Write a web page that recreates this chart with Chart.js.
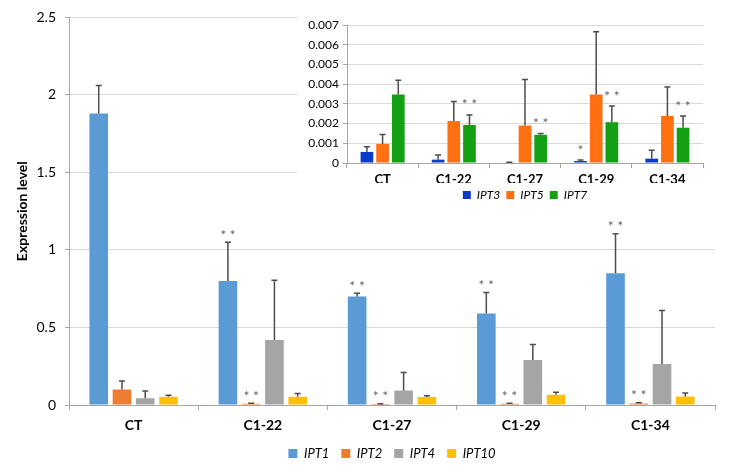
<!DOCTYPE html>
<html>
<head>
    <title>IPT expression</title>
    <script src="https://cdn.jsdelivr.net/npm/chart.js"></script>
    <style>
        body { margin: 0; background: #fff; }
        .wrap { position: relative; width: 729px; height: 472px; }
        #mainChart { position: absolute; left: 0; top: 0; }
        #insetChart { position: absolute; left: 297px; top: 0; background: #fff; }
    </style>
</head>
<body>
<div class="wrap">
    <canvas id="mainChart" width="729" height="472"></canvas>
    <canvas id="insetChart" width="432" height="211"></canvas>
</div>
<script>
    const categories = ['CT', 'C1-22', 'C1-27', 'C1-29', 'C1-34'];

    // main chart
    const ipt1 = [1.88, 0.80, 0.70, 0.59, 0.85];
    const ipt1Err = [0.18, 0.25, 0.02, 0.135, 0.255];
    const ipt2 = [0.10, 0.008, 0.006, 0.008, 0.01];
    const ipt2Err = [0.055, 0.003, 0.002, 0.003, 0.004];
    const ipt4 = [0.043, 0.42, 0.093, 0.29, 0.265];
    const ipt4Err = [0.047, 0.385, 0.117, 0.10, 0.345];
    const ipt10 = [0.053, 0.053, 0.051, 0.066, 0.055];
    const ipt10Err = [0.01, 0.021, 0.008, 0.017, 0.023];
    const ipt1Stars = ['', '**', '**', '**', '**'];
    const ipt2Stars = ['', '**', '**', '**', '**'];

    // inset chart
    const ipt3 = [0.00056, 0.00017, 0.00003, 0.0001, 0.00022];
    const ipt3Err = [0.00026, 0.00023, 0.00001, 0.00005, 0.00043];
    const ipt5 = [0.00097, 0.00213, 0.0019, 0.00348, 0.00239];
    const ipt5Err = [0.00048, 0.00099, 0.00233, 0.00318, 0.00147];
    const ipt7 = [0.00348, 0.00193, 0.00143, 0.00207, 0.00179];
    const ipt7Err = [0.00072, 0.00051, 0.00007, 0.00082, 0.00059];
    const ipt3Stars = ['', '', '', '*', ''];
    const ipt7Stars = ['', '**', '**', '**', '**'];

    const FONT = "Lato, sans-serif";
    const AXIS = '#a6a6a6';
    const GRID = '#d9d9d9';

    // draws the upper error bar with a cap and the significance stars
    const errorBars = {
        id: 'errorBars',
        afterDatasetsDraw(chart, args, opts) {
            const ctx = chart.ctx;
            const y = chart.scales.y;
            ctx.save();
            chart.data.datasets.forEach((ds, i) => {
                const meta = chart.getDatasetMeta(i);
                meta.data.forEach((bar, j) => {
                    const top = y.getPixelForValue(ds.data[j] + ds.errors[j]);
                    ctx.strokeStyle = opts.color;
                    ctx.lineWidth = 1.5;
                    ctx.beginPath();
                    ctx.moveTo(bar.x, bar.y);
                    ctx.lineTo(bar.x, top);
                    ctx.moveTo(bar.x - opts.cap, top);
                    ctx.lineTo(bar.x + opts.cap, top);
                    ctx.stroke();
                    if (ds.stars && ds.stars[j]) {
                        ctx.fillStyle = '#666';
                        ctx.font = opts.starFont;
                        ctx.textAlign = 'center';
                        ctx.textBaseline = 'middle';
                        ctx.fillText(ds.stars[j].split('').join(' '), bar.x, top - opts.starGap);
                    }
                });
            });
            ctx.restore();
        }
    };

    new Chart(document.getElementById('mainChart'), {
        type: 'bar',
        data: {
            labels: categories,
            datasets: [
                { label: 'IPT1', data: ipt1, errors: ipt1Err, stars: ipt1Stars, backgroundColor: '#5b9bd5' },
                { label: 'IPT2', data: ipt2, errors: ipt2Err, stars: ipt2Stars, backgroundColor: '#ed7d31' },
                { label: 'IPT4', data: ipt4, errors: ipt4Err, backgroundColor: '#a5a5a5' },
                { label: 'IPT10', data: ipt10, errors: ipt10Err, backgroundColor: '#ffc000' }
            ]
        },
        options: {
            responsive: false,
            animation: false,
            categoryPercentage: 0.72,
            barPercentage: 0.8,
            layout: { padding: { top: 12, right: 14, left: 0, bottom: 2 } },
            scales: {
                x: {
                    grid: { drawOnChartArea: false, tickLength: 5, tickColor: AXIS },
                    border: { color: AXIS },
                    ticks: { color: '#000', padding: 7, font: { family: FONT, size: 14, weight: 'bold' } },
                    afterFit: s => { s.height = 30; }
                },
                y: {
                    min: 0, max: 2.5,
                    grid: { color: GRID, tickLength: 4, tickColor: AXIS },
                    border: { color: AXIS },
                    ticks: {
                        stepSize: 0.5, color: '#000', padding: 9,
                        font: { family: FONT, size: 14 },
                        callback: v => String(Math.round(v * 10) / 10)
                    },
                    title: {
                        display: true, text: 'Expression level', color: '#000',
                        padding: { top: 14, bottom: 4 },
                        font: { family: FONT, size: 14, weight: 'bold' }
                    },
                    afterFit: s => { s.width = 69; }
                }
            },
            plugins: {
                legend: {
                    position: 'bottom',
                    fullSize: false,
                    labels: {
                        boxWidth: 9, boxHeight: 9, padding: 12, color: '#000',
                        font: { family: FONT, size: 13, style: 'italic' }
                    }
                },
                tooltip: { enabled: false },
                errorBars: { color: '#4d4d4d', cap: 3, starGap: 7, starFont: '14px ' + FONT }
            }
        },
        plugins: [errorBars]
    });

    new Chart(document.getElementById('insetChart'), {
        type: 'bar',
        data: {
            labels: categories,
            datasets: [
                { label: 'IPT3', data: ipt3, errors: ipt3Err, stars: ipt3Stars, backgroundColor: '#0a3cc8' },
                { label: 'IPT5', data: ipt5, errors: ipt5Err, backgroundColor: '#ff7010' },
                { label: 'IPT7', data: ipt7, errors: ipt7Err, stars: ipt7Stars, backgroundColor: '#14a014' }
            ]
        },
        options: {
            responsive: false,
            animation: false,
            categoryPercentage: 0.66,
            barPercentage: 0.81,
            layout: { padding: { top: 25, right: 26, left: 0, bottom: 0 } },
            scales: {
                x: {
                    grid: { drawOnChartArea: false, tickLength: 5, tickColor: AXIS },
                    border: { color: AXIS },
                    ticks: { color: '#000', padding: 4, font: { family: FONT, size: 13, weight: 'bold' } },
                    afterFit: s => { s.height = 20; }
                },
                y: {
                    min: 0, max: 0.007,
                    grid: { color: GRID, tickLength: 4, tickColor: AXIS },
                    border: { color: AXIS },
                    ticks: {
                        stepSize: 0.001, color: '#000', padding: 4,
                        font: { family: FONT, size: 12 },
                        callback: v => String(Math.round(v * 1000) / 1000)
                    },
                    afterFit: s => { s.width = 50; }
                }
            },
            plugins: {
                legend: {
                    position: 'bottom',
                    fullSize: false,
                    labels: {
                        boxWidth: 8, boxHeight: 8, padding: 6, color: '#000',
                        font: { family: FONT, size: 12, style: 'italic' }
                    }
                },
                tooltip: { enabled: false },
                errorBars: { color: '#4d4d4d', cap: 3, starGap: 10, starFont: '14px ' + FONT }
            }
        },
        plugins: [errorBars]
    });
</script>
</body>
</html>
